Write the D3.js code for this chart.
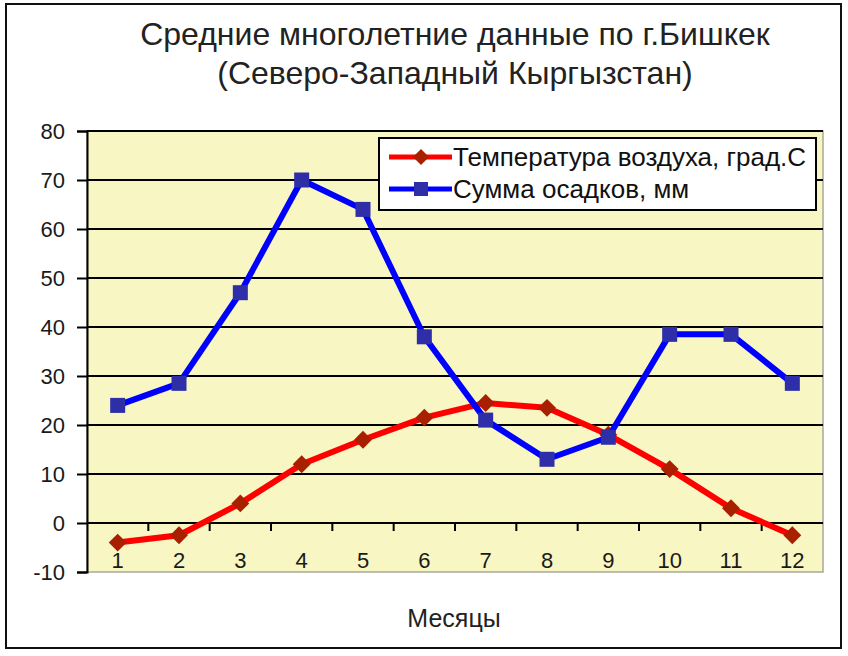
<html>
<head>
    <meta charset="utf-8">
    <script src="https://d3js.org/d3.v7.min.js"></script>
    <style>
        body { margin: 0; background: #ffffff; }
        * { font-family: "Liberation Sans", Arial, sans-serif; }
    </style>
</head>
<body>
<svg id="chart" width="848" height="656"></svg>
<script>
// data
const months = ["1", "2", "3", "4", "5", "6", "7", "8", "9", "10", "11", "12"];
const temperature = [-4, -2.5, 4, 12, 17, 21.5, 24.5, 23.5, 18, 11, 3, -2.5];
const precipitation = [24, 28.5, 47, 70, 64, 38, 21, 13, 17.5, 38.5, 38.5, 28.5];
const yTicks = [-10, 0, 10, 20, 30, 40, 50, 60, 70, 80];
const titleLines = ["Средние многолетние данные по г.Бишкек", "(Северо-Западный Кыргызстан)"];
const seriesNames = ["Температура воздуха, град.С", "Сумма осадков, мм"];

let svg = d3.select("svg#chart");
const plot = { left: 87, top: 131, right: 823, bottom: 572 };

// outer frame
svg.append("rect")
    .attr("x", 6).attr("y", 4)
    .attr("width", 835).attr("height", 644)
    .attr("fill", "#ffffff")
    .attr("stroke", "#111").attr("stroke-width", 2);

// title
svg.selectAll("text.title").data(titleLines)
    .join("text")
    .attr("class", "title")
    .attr("x", 455)
    .attr("y", (d, i) => 45 + i * 39)
    .attr("text-anchor", "middle")
    .style("font-size", "32px")
    .style("fill", "#222")
    .text(d => d);

const xScale = d3.scaleBand().domain(months).range([plot.left, plot.right]);
const yScale = d3.scaleLinear().domain([-10, 80]).range([plot.bottom, plot.top]);

// plot area
svg.append("rect")
    .attr("x", plot.left).attr("y", plot.top)
    .attr("width", plot.right - plot.left).attr("height", plot.bottom - plot.top)
    .attr("fill", "#f8f6c2")
    .attr("stroke", "#a8a89a").attr("stroke-width", 1.5);

// gridlines
svg.append("g")
    .selectAll("line").data(yTicks.filter(d => d > -10))
    .join("line")
    .attr("x1", plot.left).attr("x2", plot.right)
    .attr("y1", d => yScale(d)).attr("y2", d => yScale(d))
    .attr("stroke", "#000").attr("stroke-width", 2);

// y axis
let leftAxis = d3.axisLeft(yScale).tickValues(yTicks).tickFormat(d => String(d))
    .tickSize(10).tickPadding(12);
let yAxisG = svg.append("g")
    .attr("transform", `translate(${plot.left}, 0)`)
    .call(leftAxis);
yAxisG.select(".domain").attr("stroke", "#000").attr("stroke-width", 2);
yAxisG.selectAll(".tick line").attr("stroke", "#000").attr("stroke-width", 2);
yAxisG.selectAll(".tick text")
    .style("font-size", "22px").style("fill", "#1a1a1a")
    .attr("dy", "0.35em");

// x axis at zero, ticks between categories
let bottomAxis = d3.axisBottom(xScale).tickSize(0).tickPadding(29);
let xAxisG = svg.append("g")
    .attr("transform", `translate(0, ${yScale(0)})`)
    .call(bottomAxis);
xAxisG.select(".domain").remove();
xAxisG.selectAll(".tick text").style("font-size", "22px").style("fill", "#1a1a1a");
xAxisG.selectAll("line.between").data(months.slice(1))
    .join("line")
    .attr("class", "between")
    .attr("x1", d => xScale(d)).attr("x2", d => xScale(d))
    .attr("y1", 0).attr("y2", 8)
    .attr("stroke", "#000").attr("stroke-width", 2);

const cx = (d, i) => xScale(months[i]) + xScale.bandwidth() / 2;

let line = d3.line().x((d, i) => cx(d, i)).y(d => yScale(d));

// temperature
svg.append("path").datum(temperature)
    .attr("d", line)
    .attr("fill", "none").attr("stroke", "#ff0000").attr("stroke-width", 6)
    .attr("stroke-linejoin", "round");
svg.selectAll("path.diamond").data(temperature)
    .join("path")
    .attr("class", "diamond")
    .attr("d", d3.symbol(d3.symbolSquare, 160))
    .attr("transform", (d, i) => `translate(${cx(d, i)}, ${yScale(d)}) rotate(45)`)
    .attr("fill", "#a82000");

// precipitation
svg.append("path").datum(precipitation)
    .attr("d", line)
    .attr("fill", "none").attr("stroke", "#0000ff").attr("stroke-width", 6)
    .attr("stroke-linejoin", "round");
svg.selectAll("rect.square").data(precipitation)
    .join("rect")
    .attr("class", "square")
    .attr("x", (d, i) => cx(d, i) - 7.5).attr("y", d => yScale(d) - 7.5)
    .attr("width", 15).attr("height", 15)
    .attr("fill", "#2e2ea8");

// legend
let legend = svg.append("g");
legend.append("rect")
    .attr("x", 379).attr("y", 138)
    .attr("width", 437).attr("height", 72)
    .attr("fill", "#ffffff").attr("stroke", "#000").attr("stroke-width", 2);
let colors = ["#ff0000", "#0000ff"];
let rows = legend.selectAll("g.row").data(seriesNames)
    .join("g")
    .attr("class", "row")
    .attr("transform", (d, i) => `translate(0, ${157 + i * 32})`);
rows.append("line")
    .attr("x1", 389).attr("x2", 452)
    .attr("stroke", (d, i) => colors[i]).attr("stroke-width", 5);
rows.filter((d, i) => i === 0).append("path")
    .attr("d", d3.symbol(d3.symbolSquare, 130))
    .attr("transform", "translate(421, 0) rotate(45)")
    .attr("fill", "#a82000");
rows.filter((d, i) => i === 1).append("rect")
    .attr("x", 414).attr("y", -7).attr("width", 14).attr("height", 14)
    .attr("fill", "#2e2ea8");
rows.append("text")
    .attr("x", 453).attr("y", 9)
    .style("font-size", "26px").style("fill", "#111")
    .text(d => d);

// axis label
svg.append("text")
    .attr("x", 454).attr("y", 627)
    .attr("text-anchor", "middle")
    .style("font-size", "25px").style("fill", "#222")
    .text("Месяцы");
</script>
</body>
</html>
